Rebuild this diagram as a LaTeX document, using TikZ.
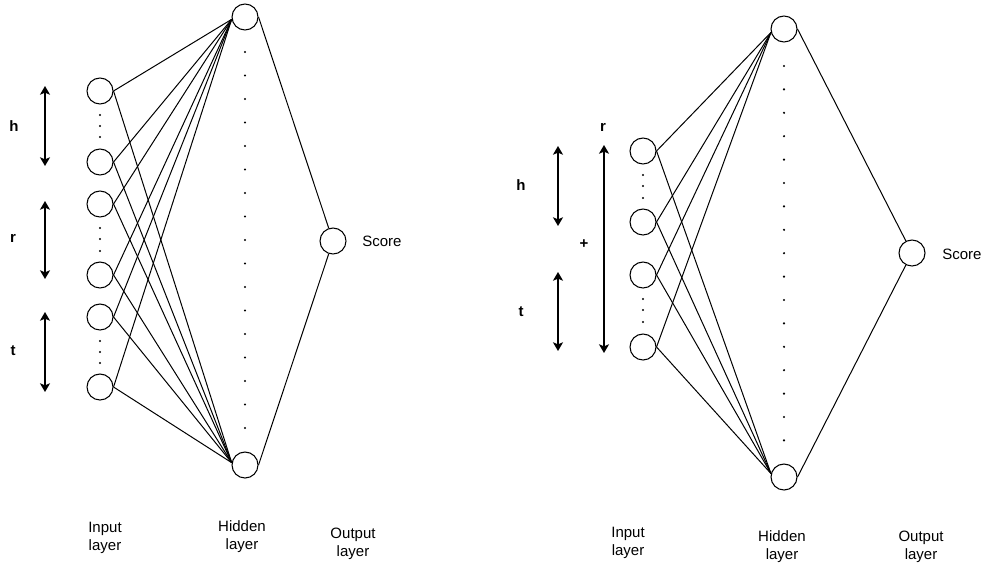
\documentclass[tikz,border=0pt]{standalone}
\usepackage{fontspec}
\setmainfont{Liberation Sans}
\usetikzlibrary{arrows.meta}
\begin{document}
\begin{tikzpicture}[x=0.75pt,y=-0.75pt,
  neuron/.style={circle,draw,line width=0.8pt,inner sep=0pt,minimum size=19.5pt},
  conn/.style={line width=0.75pt},
  dimarrow/.style={line width=1.1pt,{Stealth[length=6.5pt,width=7.5pt,inset=1.5pt]}-{Stealth[length=6.5pt,width=7.5pt,inset=1.5pt]}},
  lbl/.style={font=\fontsize{11.25}{13.5}\selectfont,align=center,inner sep=0pt},
  sym/.style={font=\fontsize{11.25}{13.5}\selectfont\bfseries,inner sep=0pt},
  dot/.style={fill=black}
]
\useasboundingbox (0,0) rectangle (987,564);

% ---------------- Left network ----------------
\node[neuron] (Li1) at (100,91) {};
\node[neuron] (Li2) at (100,162) {};
\node[neuron] (Li3) at (100,204) {};
\node[neuron] (Li4) at (100,275) {};
\node[neuron] (Li5) at (100,317) {};
\node[neuron] (Li6) at (100,387) {};
\node[neuron] (Lh1) at (245,17) {};
\node[neuron] (Lh2) at (245,465) {};
\node[neuron] (Lo) at (333,241) {};
\node[lbl,anchor=west] (Ls) at (362,241) {Score};

\foreach \y in {115,126,137,228,239,251,341,352,363}
  \fill[dot] (100,\y) circle[radius=0.9pt];
\foreach \i in {0,...,16}
  \fill[dot] (245,{52+\i*23.5}) circle[radius=0.9pt];

\foreach \n in {1,...,6}{
  \draw[conn] (Li\n.east) -- (Lh1.190);
  \draw[conn] (Li\n.east) -- (Lh2.170);
}
\draw[conn] (Lh1.east) -- (Lo);
\draw[conn] (Lh2.east) -- (Lo);

\coordinate (Lah1) at (45,86);
\coordinate (Lah2) at (45,166);
\coordinate (Lar1) at (45,201);
\coordinate (Lar2) at (45,279);
\coordinate (Lat1) at (45,312);
\coordinate (Lat2) at (45,392);
\draw[dimarrow] (Lah1) -- (Lah2);
\draw[dimarrow] (Lar1) -- (Lar2);
\draw[dimarrow] (Lat1) -- (Lat2);
\node[sym] (Llh) at (14,126) {h};
\node[sym] (Llr) at (13,238) {r};
\node[sym] (Llt) at (13,351) {t};

\node[lbl] (Lin) at (105,538) {Input\\layer};
\node[lbl] (Lhid) at (242,537) {Hidden\\layer};
\node[lbl] (Lout) at (353,544) {Output\\layer};

% ---------------- Right network ----------------
\node[neuron] (Ri1) at (643,151) {};
\node[neuron] (Ri2) at (643,222) {};
\node[neuron] (Ri3) at (643,275) {};
\node[neuron] (Ri4) at (643,347) {};
\node[neuron] (Rh1) at (784,29) {};
\node[neuron] (Rh2) at (784,477) {};
\node[neuron] (Ro) at (912,253) {};
\node[lbl,anchor=west] (Rs) at (942,254) {Score};

\foreach \y in {175,186,198,299,310,322}
  \fill[dot] (643,\y) circle[radius=0.9pt];
\foreach \i in {0,...,16}
  \fill[dot] (784,{66+\i*23.4}) circle[radius=0.9pt];

\foreach \n in {1,...,4}{
  \draw[conn] (Ri\n.east) -- (Rh1.195);
  \draw[conn] (Ri\n.east) -- (Rh2.165);
}
\draw[conn] (Rh1.east) -- (Ro);
\draw[conn] (Rh2.east) -- (Ro);

\coordinate (Rah1) at (558,146);
\coordinate (Rah2) at (558,226);
\coordinate (Rat1) at (558,272);
\coordinate (Rat2) at (558,351);
\coordinate (Rar1) at (604,145);
\coordinate (Rar2) at (604,353);
\draw[dimarrow] (Rah1) -- (Rah2);
\draw[dimarrow] (Rat1) -- (Rat2);
\draw[dimarrow] (Rar1) -- (Rar2);
\node[sym] (Rlh) at (521,185) {h};
\node[sym] (Rlt) at (521,312) {t};
\node[sym] (Rlr) at (603,127) {r};
\node[sym] (Rplus) at (584,244) {+};

\node[lbl] (Rin) at (628,543) {Input\\layer};
\node[lbl] (Rhid) at (782,547) {Hidden\\layer};
\node[lbl] (Rout) at (921,547) {Output\\layer};
\end{tikzpicture}
\end{document}
